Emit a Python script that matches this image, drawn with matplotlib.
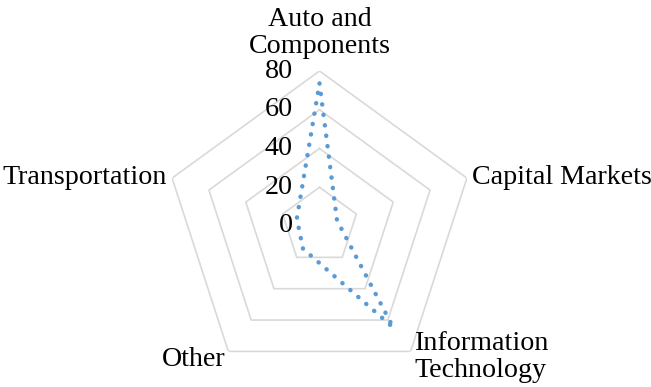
import numpy as np
import matplotlib
matplotlib.use("Agg")
import matplotlib.pyplot as plt
from matplotlib.transforms import offset_copy

categories = ["Auto and\nComponents", "Capital Markets", "Information\nTechnology", "Other", "Transportation"]
values = [73.6, 9.5, 64.8, 14.5, 12.3]
ring_ticks = [0, 20, 40, 60, 80]

plt.rcParams['font.family'] = ['Liberation Serif', 'DejaVu Serif']
FS = 20.2

fig = plt.figure(figsize=(6.51, 3.87), dpi=100)
ax = fig.add_axes([164.5/651, 6/387, 310/651, 310/387], projection='polar')
ax.set_theta_offset(np.pi/2)
ax.set_theta_direction(-1)
ax.set_ylim(0, 80)
ax.grid(False)
ax.spines['polar'].set_visible(False)
ax.set_xticks([])
ax.set_yticks([])
ax.patch.set_alpha(0)

n = len(categories)
angles = np.arange(n) * 2*np.pi/n
ang_closed = np.concatenate([angles, angles[:1]])

# pentagon grid
for r in ring_ticks[1:]:
    ax.plot(ang_closed, [r]*(n+1), color='#D9D9D9', lw=1.2, zorder=1)

vals_closed = list(values) + [values[0]]
ax.plot(ang_closed, vals_closed, color='#5B9BD5', lw=3.2,
        linestyle=(0, (0.05, 2.32)), dash_capstyle='round', zorder=3)

# radial tick labels
for r in ring_ticks:
    tr = offset_copy(ax.transData, fig=fig, x=-27, y=0, units='dots')
    ax.text(0, r, str(r), transform=tr, ha='right', va='center', fontsize=FS)

# category labels
offs = [(0, 38, 'center', 'center'),
        (5, 1, 'left', 'center'),
        (4, -6, 'left', 'center'),
        (-3, -8, 'right', 'center'),
        (-5, 1, 'right', 'center')]
for a, lab, (dx, dy, ha, va) in zip(angles, categories, offs):
    tr = offset_copy(ax.transData, fig=fig, x=dx, y=dy, units='dots')
    ax.text(a, 80, lab, transform=tr, ha=ha, va=va, fontsize=FS,
            multialignment='center' if ha == 'center' else 'left', linespacing=1.1)

fig.savefig('out.png', dpi=100)
